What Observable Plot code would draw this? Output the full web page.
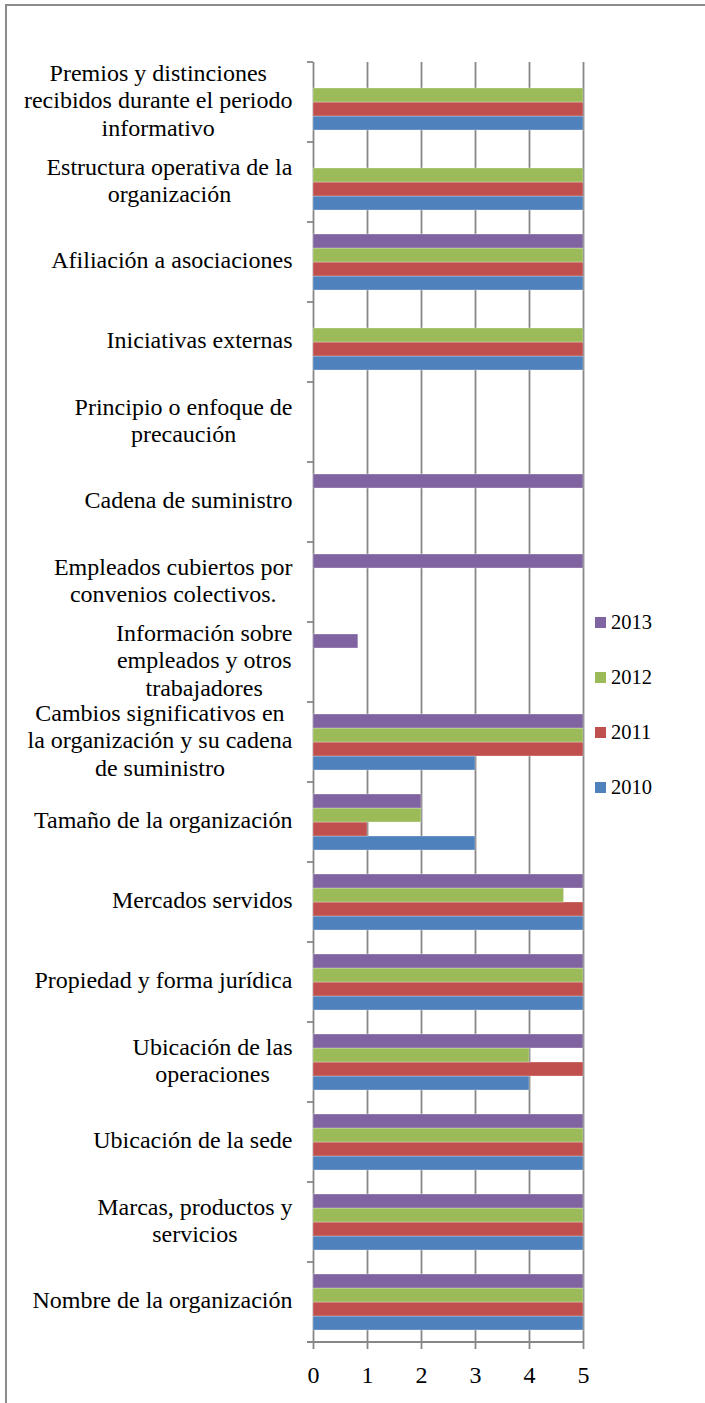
<!DOCTYPE html>
<html>
<head>
<meta charset="utf-8">
<script src="https://cdn.jsdelivr.net/npm/d3@7"></script>
<script src="https://cdn.jsdelivr.net/npm/@observablehq/plot@0.6"></script>
<style>
  html, body { margin: 0; padding: 0; background: #fff; }
  #wrap { position: relative; width: 705px; height: 1403px; overflow: hidden; background: #fff;
          font-family: "Liberation Serif", "Times New Roman", serif; }
  #wrap svg { position: absolute; left: 0; top: 0; }
  #frame { position: absolute; left: 5px; top: 4px; width: 800px; height: 1600px;
           border-left: 2px solid #8c8c8c; border-top: 2px solid #8c8c8c; pointer-events: none; }
  #legend { position: absolute; left: 595px; top: 595px; }
  .item { display: flex; align-items: center; height: 55px; font-size: 20.5px; color: #000; }
  .sw { width: 11px; height: 11px; margin-right: 5px; }
</style>
</head>
<body>
<div id="wrap">
  <div id="frame"></div>
  <div id="legend"></div>
</div>
<script>
// Categories, top to bottom (line breaks as in the reference)
const categories = [
  "Premios y distinciones\nrecibidos durante el periodo\ninformativo",
  "Estructura operativa de la\norganización",
  "Afiliación a asociaciones",
  "Iniciativas externas",
  "Principio o enfoque de\nprecaución",
  "Cadena de suministro",
  "Empleados cubiertos por\nconvenios colectivos.",
  "Información sobre\nempleados y otros\ntrabajadores",
  "Cambios significativos en\nla organización y su cadena\nde suministro",
  "Tamaño de la organización",
  "Mercados servidos",
  "Propiedad y forma jurídica",
  "Ubicación de las\noperaciones",
  "Ubicación de la sede",
  "Marcas, productos y\nservicios",
  "Nombre de la organización"
];
const years = ["2010", "2011", "2012", "2013"];
const values2010 = [5, 5, 5, 5, null, null, null, null, 3, 3, 5, 5, 4, 5, 5, 5];
const values2011 = [5, 5, 5, 5, null, null, null, null, 5, 1, 5, 5, 5, 5, 5, 5];
const values2012 = [5, 5, 5, 5, null, null, null, null, 5, 2, 4.64, 5, 4, 5, 5, 5];
const values2013 = [null, null, 5, null, null, 5, 5, 0.83, 5, 2, 5, 5, 5, 5, 5, 5];
const colors = ["#4F81BD", "#C0504D", "#9BBB59", "#8064A2"];
const xTicks = [0, 1, 2, 3, 4, 5];

const series = [values2010, values2011, values2012, values2013];
const rows = [];
categories.forEach((c, i) => {
  series.forEach((arr, j) => {
    if (arr[i] != null) rows.push({category: c, year: years[j], value: arr[i]});
  });
});
// grid lines in every category band (including empty ones)
const gridRows = [];
categories.forEach(c => xTicks.forEach(t => gridRows.push({category: c, tick: t})));

const font = "'Liberation Serif', 'Times New Roman', serif";
const gridColor = "#878787";

const plot = Plot.plot({
  width: 705,
  height: 1403,
  marginTop: 57,
  marginBottom: 57,
  marginLeft: 313,
  marginRight: 122,
  style: {fontFamily: font, background: "transparent", overflow: "visible", color: "#000"},
  x: {domain: [0, 5]},
  y: {domain: years.slice().reverse(), paddingInner: 0, paddingOuter: 0.75, axis: null},
  fy: {domain: categories, padding: 0},
  color: {domain: years, range: colors},
  marks: [
    Plot.ruleX(gridRows, {fy: "category", x: "tick", stroke: gridColor, strokeOpacity: 1, strokeWidth: 1.8}),
    Plot.barX(rows, {fy: "category", y: "year", x: "value", fill: "year",
                     stroke: "#ffffff", strokeOpacity: 0.3, strokeWidth: 1}),
    Plot.axisFy({anchor: "left", tickSize: 0, tickPadding: 21, fontSize: 24,
                 lineHeight: 1.15, label: null, fill: "#000", dy: -3}),
    Plot.axisX(xTicks, {anchor: "bottom", tickSize: 7, tickPadding: 16, fontSize: 24,
                        label: null, stroke: gridColor, strokeWidth: 1.8, fill: "#000"})
  ]
});

const wrap = document.getElementById("wrap");
wrap.insertBefore(plot, document.getElementById("frame"));

// Center each multi-line category label block (Excel style), keeping its right edge
const svg = d3.select(plot);
svg.selectAll('g[aria-label="fy-axis tick label"] text').each(function() {
  const w = this.getBBox().width;
  this.setAttribute("text-anchor", "middle");
  const t = this.getAttribute("transform") || "";
  this.setAttribute("transform", t + ` translate(${-w / 2},0)`);
});

// Category boundary ticks and bottom axis line, from the plot's own scales
const fy = plot.scale("fy"), xs = plot.scale("x");
const x0 = xs.apply(0), x5 = xs.apply(5);
const bounds = categories.map(c => fy.apply(c));
const bottom = fy.apply(categories[categories.length - 1]) + fy.bandwidth;
bounds.push(bottom);
const g = svg.append("g").attr("stroke", gridColor).attr("stroke-width", 1.8);
bounds.forEach(b => g.append("line").attr("x1", x0 - 6).attr("x2", x0).attr("y1", b).attr("y2", b));
g.append("line").attr("x1", x0 - 6).attr("x2", x5).attr("y1", bottom).attr("y2", bottom);

// Legend (top to bottom: 2013 .. 2010)
const legend = d3.select("#legend");
years.slice().reverse().forEach(y => {
  const item = legend.append("div").attr("class", "item");
  item.append("div").attr("class", "sw").style("background", colors[years.indexOf(y)]);
  item.append("span").text(y);
});
</script>
</body>
</html>
